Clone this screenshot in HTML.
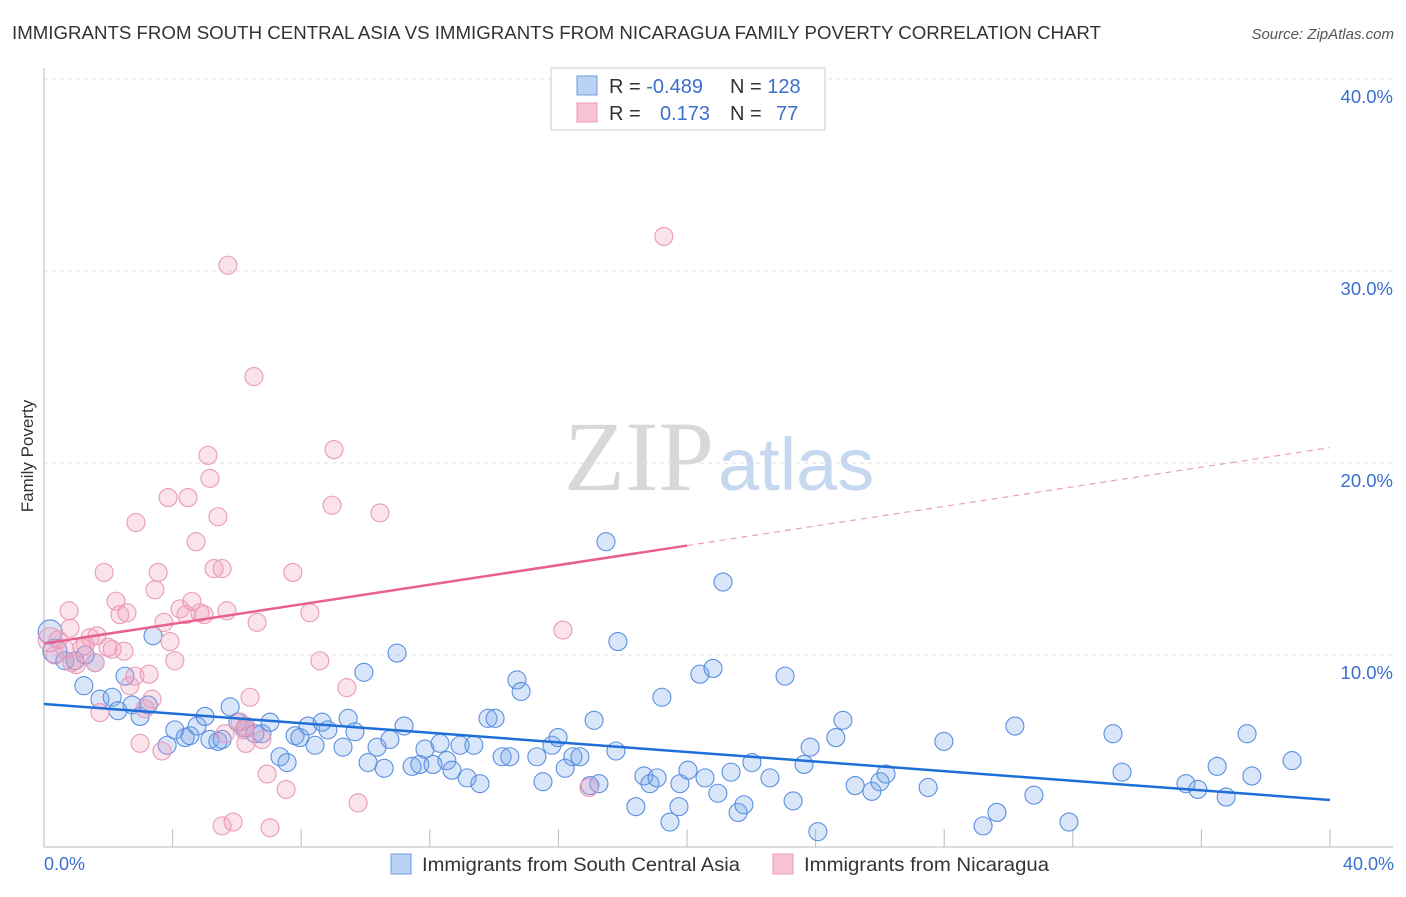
<!DOCTYPE html>
<html><head><meta charset="utf-8"><style>
body{margin:0;background:#fff;font-family:"Liberation Sans",sans-serif;}
</style></head><body>
<svg width="1406" height="892" xmlns="http://www.w3.org/2000/svg" style="font-family:'Liberation Sans',sans-serif">
<text x="12" y="39" font-size="18.6" fill="#333" textLength="1089" lengthAdjust="spacingAndGlyphs">IMMIGRANTS FROM SOUTH CENTRAL ASIA VS IMMIGRANTS FROM NICARAGUA FAMILY POVERTY CORRELATION CHART</text>
<text x="1394" y="39" font-size="15" fill="#555" font-style="italic" text-anchor="end">Source: ZipAtlas.com</text>
<text x="714" y="490" font-size="100" fill="#d8d8d8" text-anchor="end" font-family="Liberation Serif,serif">ZIP</text>
<text x="718" y="490" font-size="74" fill="#c5d8ef">atlas</text>
<g id="grid"></g>
<g id="axes"></g>
<g id="pts"></g>
<g id="trend"></g>
<text x="33" y="456" font-size="17" fill="#333" text-anchor="middle" transform="rotate(-90 33 456)">Family Poverty</text>
<text x="44" y="870" font-size="18" fill="#3a6fd0">0.0%</text>
<text x="1394" y="870" font-size="18" fill="#3a6fd0" text-anchor="end">40.0%</text>
<g>
<rect x="551" y="68" width="274" height="62" fill="#fff" stroke="#ccc"/>
<rect x="577" y="76" width="20" height="19" fill="#b9d1f3" stroke="#6f9be0"/>
<rect x="577" y="103" width="20" height="19" fill="#f8c4d4" stroke="#ec9ab5"/>
<text x="609" y="93" font-size="20" fill="#333">R = <tspan fill="#3a6fd0">-0.489</tspan><tspan x="730">N = </tspan><tspan fill="#3a6fd0">128</tspan></text>
<text x="609" y="120" font-size="20" fill="#333">R = <tspan x="660" fill="#3a6fd0">0.173</tspan><tspan x="730">N = </tspan><tspan x="776" fill="#3a6fd0">77</tspan></text>
</g>
<g>
<rect x="391" y="854" width="20" height="20" fill="#b9d1f3" stroke="#6f9be0"/>
<text x="422" y="871" font-size="19.5" fill="#333" textLength="318" lengthAdjust="spacingAndGlyphs">Immigrants from South Central Asia</text>
<rect x="773" y="854" width="20" height="20" fill="#f8c4d4" stroke="#ec9ab5"/>
<text x="804" y="871" font-size="19.5" fill="#333" textLength="245" lengthAdjust="spacingAndGlyphs">Immigrants from Nicaragua</text>
</g>
</svg>
<script>
const yTicks=[10,20,30,40];
const xTicks=[0,4,8,12,16,20,24,28,32,36,40];
const blueX=[0.19,0.34,0.65,0.96,1.28,1.59,1.24,1.74,2.12,2.30,2.52,2.74,2.99,3.24,3.39,3.83,4.07,4.39,4.54,4.76,5.01,5.16,5.41,5.54,5.79,6.03,6.25,6.56,6.78,7.03,7.34,7.56,7.81,7.96,8.21,8.43,8.65,8.83,9.30,9.46,9.67,9.95,10.08,10.36,10.58,10.76,10.98,11.20,11.45,11.69,11.85,12.10,12.32,12.53,12.69,12.94,13.16,13.37,13.56,13.81,14.03,14.25,14.49,14.71,14.84,15.33,15.52,15.80,15.99,16.21,16.45,16.67,16.98,17.26,17.11,17.48,17.79,17.85,18.41,18.66,18.85,19.07,19.22,19.47,19.78,19.75,20.03,20.40,20.56,20.81,20.96,21.12,21.37,21.59,21.77,22.02,22.58,23.05,23.30,23.64,23.83,24.63,24.85,25.23,25.75,26.00,26.19,27.50,27.99,29.21,29.64,30.20,30.79,31.88,33.25,33.53,35.52,35.89,36.49,36.77,37.42,37.57,38.82,24.07];
const blueY=[11.2,10.2,9.7,9.7,10.0,9.6,8.4,7.7,7.8,7.1,8.9,7.4,6.8,7.4,11.0,5.3,6.1,5.7,5.8,6.3,6.8,5.6,5.5,5.6,7.3,6.5,6.2,5.9,5.9,6.5,4.7,4.4,5.8,5.7,6.3,5.3,6.5,6.1,5.2,6.7,6.0,9.1,4.4,5.2,4.1,5.6,10.1,6.3,4.2,4.3,5.1,4.3,5.4,4.5,4.0,5.3,3.6,5.3,3.3,6.7,6.7,4.7,4.7,8.7,8.1,4.7,3.4,5.3,5.7,4.1,4.7,4.7,3.2,3.3,6.6,15.9,5.0,10.7,2.1,3.7,3.3,3.6,7.8,1.3,3.3,2.1,4.0,9.0,3.6,9.3,2.8,13.8,3.9,1.8,2.2,4.4,3.6,8.9,2.4,4.3,5.2,5.7,6.6,3.2,2.9,3.4,3.8,3.1,5.5,1.1,1.8,6.3,2.7,1.3,5.9,3.9,3.3,3.0,4.2,2.6,5.9,3.7,4.5,0.8];
const pinkX=[0.19,0.34,0.44,0.65,0.78,0.81,0.87,1.00,1.18,1.28,1.43,1.65,1.59,1.74,1.87,1.99,2.12,2.24,2.36,2.49,2.58,2.67,2.83,2.86,2.99,3.14,3.27,3.36,3.45,3.55,3.67,3.73,3.86,3.92,4.07,4.23,4.42,4.48,4.60,4.73,4.85,4.98,5.10,5.16,5.29,5.41,5.54,5.54,5.88,5.72,6.10,6.28,6.41,6.53,6.63,6.94,7.03,7.53,7.74,8.27,8.58,8.96,9.02,9.42,9.77,10.45,16.14,16.95,19.28,5.63,6.22,6.78,6.28,5.69];
const pinkY=[10.8,10.0,10.8,10.3,12.3,11.4,9.6,9.5,10.4,10.5,10.9,11.0,9.6,7.0,14.3,10.4,10.3,12.8,12.1,10.2,12.2,8.4,8.9,16.9,5.4,7.2,9.0,7.7,13.4,14.3,5.0,11.7,18.2,10.7,9.7,12.4,12.1,18.2,12.8,15.9,12.2,12.1,20.4,19.2,14.5,17.2,14.5,1.1,1.3,30.3,6.5,5.4,7.8,24.5,11.7,3.8,1.0,3.0,14.3,12.2,9.7,17.8,20.7,8.3,2.3,17.4,11.3,3.1,31.8,5.9,6.1,5.6,6.3,12.3];
const blueTrend=[7.45,2.45];      // y at x=0 and x=40
const pinkTrend=[10.6,20.8];      // y at x=0 and x=40
const pinkSolidEnd=20;
const NS="http://www.w3.org/2000/svg";
const X=v=>44+v*32.15, Y=v=>847-v*19.2;
function mk(tag,attrs,parent){const e=document.createElementNS(NS,tag);for(const k in attrs)e.setAttribute(k,attrs[k]);document.getElementById(parent).appendChild(e);return e;}
yTicks.forEach(t=>{
  const l=mk('line',{x1:44,x2:1393,y1:Y(t),y2:Y(t),stroke:'#ddd','stroke-dasharray':'4,4'},'grid');
  
  
  const tx=mk('text',{x:1393,y:Y(t)+24,'font-size':18.5,fill:'#3a6fd0','text-anchor':'end'},'grid');
  tx.textContent=t.toFixed(1)+'%';
  
  
});
const ax=mk('line',{x1:44,x2:44,y1:68,y2:847,stroke:'#bbb'},'axes');


const bx=mk('line',{x1:44,x2:1393,y1:847,y2:847,stroke:'#bbb'},'axes');


xTicks.forEach(t=>{
  const l=mk('line',{x1:X(t),x2:X(t),y1:829,y2:847,stroke:'#bbb'},'axes');
  
  
});
function dots(xs,ys,fill,stroke,name){
  xs.forEach((x,i)=>{
    const big=(x<0.4&&ys[i]>10)?12:9;
    const c=mk('circle',{cx:X(x),cy:Y(ys[i]),r:big,fill:fill,stroke:stroke,'stroke-width':1.1},'pts');
    
    
  });
}
dots(blueX,blueY,'rgba(120,165,235,0.28)','#5b8fe0','blue-point');
dots(pinkX,pinkY,'rgba(240,155,185,0.28)','#ea9ab8','pink-point');
const bt=mk('line',{x1:X(0),y1:Y(blueTrend[0]),x2:X(40),y2:Y(blueTrend[1]),stroke:'#1f6fd8','stroke-width':2.5},'trend');


const py=x=>pinkTrend[0]+(pinkTrend[1]-pinkTrend[0])*x/40;
const pt=mk('line',{x1:X(0),y1:Y(py(0)),x2:X(pinkSolidEnd),y2:Y(py(pinkSolidEnd)),stroke:'#e8608e','stroke-width':2.5},'trend');


const pd=mk('line',{x1:X(pinkSolidEnd),y1:Y(py(pinkSolidEnd)),x2:X(40),y2:Y(py(40)),stroke:'#e8a0b8','stroke-width':1.2,'stroke-dasharray':'6,5'},'trend');


</script>
</body></html>
